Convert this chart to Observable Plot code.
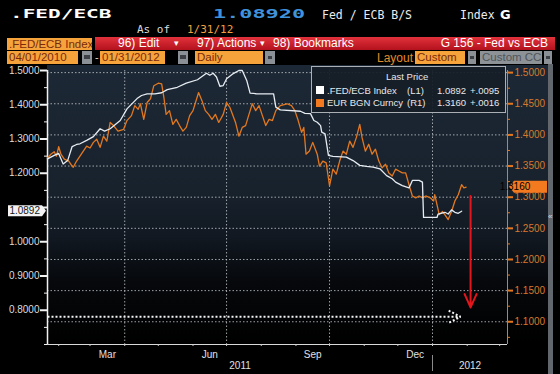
<!DOCTYPE html>
<html><head><meta charset="utf-8">
<script src="https://cdn.jsdelivr.net/npm/d3@7"></script>
<script src="https://cdn.jsdelivr.net/npm/@observablehq/plot@0.6"></script>
<style>
html,body{margin:0;padding:0;background:#000;}
#wrap{position:relative;width:560px;height:374px;overflow:hidden;background:#000;font-family:'Liberation Sans',Arial,sans-serif;}
.a{position:absolute;white-space:nowrap;line-height:1;}
.ob{position:absolute;background:#f6a33b;color:#7a2a0c;font-size:11.5px;line-height:12.5px;height:12.5px;padding-left:2px;box-sizing:border-box;white-space:nowrap;overflow:hidden;}
.gr{position:absolute;background:#8d9297;color:#50555b;font-size:11.5px;line-height:12.5px;height:12.5px;padding-left:2px;box-sizing:border-box;white-space:nowrap;overflow:hidden;}
.gb{position:absolute;background:#8b9096;height:12.5px;}
.gb i{position:absolute;left:2px;right:2px;top:4px;height:4px;background:#3c4046;}
.rb{position:absolute;color:#fff;font-size:12px;line-height:13px;top:37px;white-space:nowrap;}
#plotbg{position:absolute;left:47px;top:65px;width:501px;height:279px;background:linear-gradient(#1d2836 0%,#18222d 45%,#111821 62%,#06080b 78%,#000 100%);}
#chart{position:absolute;left:0;top:64px;}
.legend{position:absolute;left:311px;top:66px;width:195px;height:47px;box-sizing:border-box;border:1px solid #aab0b6;background:rgba(22,30,40,0.93);color:#e8e8e8;font-size:9.5px;}
.legend span{position:absolute;white-space:nowrap;line-height:1;}
</style></head>
<body><div id="wrap">
  <div class="a" style="left:10px;top:6px;font:bold 13px 'DejaVu Sans Mono';color:#fff;transform:scaleX(1.62);transform-origin:0 0;">.FED/ECB</div>
  <div class="a" style="left:213px;top:6px;font:bold 13px 'DejaVu Sans Mono';color:#3f92dc;transform:scaleX(1.68);transform-origin:0 0;">1.08920</div>
  <div class="a" style="left:322px;top:8px;font:11.5px 'DejaVu Sans Mono';color:#ececec;">Fed / ECB B/S</div>
  <div class="a" style="left:460px;top:8px;font:11.5px 'DejaVu Sans Mono';color:#ececec;">Index</div>
  <div class="a" style="left:500px;top:7px;font:bold 13px 'DejaVu Sans';color:#fff;">G</div>
  <div class="a" style="left:137px;top:23px;font:11px 'DejaVu Sans Mono';color:#ddd;">As of</div>
  <div class="a" style="left:187px;top:23px;font:11px 'DejaVu Sans Mono';color:#f0a040;">1/31/12</div>

  <div class="ob" style="left:7px;top:37.5px;width:85px;">.FED/ECB Index</div>
  <div style="position:absolute;left:95px;top:37px;width:460px;height:13px;background:linear-gradient(#e2323c,#b3121d);"></div>
  <div class="rb" style="left:118px;">96) Edit</div>
  <div class="rb" style="left:174px;font-size:9px;">&#9662;</div>
  <div class="rb" style="left:197px;">97) Actions</div>
  <div class="rb" style="left:260px;font-size:9px;">&#9662;</div>
  <div class="rb" style="left:273px;">98) Bookmarks</div>
  <div class="rb" style="right:12px;">G 156 - Fed vs ECB</div>

  <div class="ob" style="left:7px;top:51px;width:71px;">04/01/2010</div>
  <div class="gb" style="left:82px;top:51px;width:10px;"><i></i></div>
  <div class="a" style="left:95px;top:52px;color:#ddd;font-size:11px;">-</div>
  <div class="ob" style="left:100px;top:51px;width:65px;">01/31/2012</div>
  <div class="gb" style="left:178px;top:51px;width:10px;"><i></i></div>
  <div class="ob" style="left:195px;top:51px;width:68px;">Daily</div>
  <div class="gb" style="left:265px;top:51px;width:10px;"><i style="top:5px;height:3px;left:3px;right:3px"></i></div>
  <div class="a" style="left:377px;top:52px;color:#e38b2b;font-size:12px;">Layout</div>
  <div class="ob" style="left:415px;top:51px;width:50px;">Custom</div>
  <div class="gb" style="left:468px;top:51px;width:8px;"><i style="top:5px;height:3px;left:2px;right:2px"></i></div>
  <div class="gr" style="left:480px;top:51px;width:62px;">Custom CC</div>
  <div class="gb" style="left:544px;top:51px;width:8px;"><i style="top:5px;height:3px;left:2px;right:2px"></i></div>

  <div id="plotbg"></div>
  <div style="position:absolute;left:548px;top:64px;width:5px;height:310px;background:#62676e;"></div>
  <div class="a" style="left:548px;top:213px;font-size:8px;color:#ddd;">&laquo;</div>
  <div id="chart"></div>
  <div class="legend" id="legend"></div>
</div>
<script>
// ---- data ----
const fedSeries = [
 ["2011-01-22",1.242],["2011-01-28",1.252],["2011-02-01",1.258],["2011-02-05",1.227],["2011-02-09",1.237],
 ["2011-02-13",1.278],["2011-02-17",1.284],["2011-02-20",1.286],["2011-02-26",1.296],["2011-03-04",1.307],
 ["2011-03-10",1.330],["2011-03-14",1.323],["2011-03-19",1.330],["2011-03-28",1.354],["2011-04-03",1.388],
 ["2011-04-12",1.418],["2011-04-16",1.427],["2011-04-21",1.432],["2011-04-28",1.432],["2011-05-04",1.435],
 ["2011-05-09",1.444],["2011-05-18",1.451],["2011-05-26",1.463],["2011-06-05",1.473],["2011-06-13",1.492],
 ["2011-06-16",1.486],["2011-06-19",1.492],["2011-06-22",1.481],["2011-06-25",1.454],["2011-06-28",1.456],
 ["2011-07-01",1.476],["2011-07-07",1.491],["2011-07-12",1.500],["2011-07-15",1.500],["2011-07-19",1.471],
 ["2011-07-22",1.434],["2011-07-28",1.432],["2011-08-12",1.432],["2011-08-14",1.393],["2011-08-18",1.385],
 ["2011-09-05",1.381],["2011-09-09",1.375],["2011-09-14",1.374],["2011-09-17",1.354],["2011-09-20",1.349],
 ["2011-09-23",1.339],["2011-09-24",1.320],["2011-09-27",1.315],["2011-09-30",1.252],["2011-10-04",1.249],
 ["2011-10-16",1.247],["2011-10-22",1.237],["2011-10-28",1.223],["2011-11-03",1.220],["2011-11-09",1.218],
 ["2011-11-15",1.213],["2011-11-21",1.193],["2011-11-26",1.184],["2011-11-29",1.174],["2011-12-05",1.164],
 ["2011-12-11",1.157],["2011-12-14",1.179],["2011-12-20",1.179],["2011-12-23",1.174],["2011-12-24",1.071],
 ["2012-01-05",1.071],["2012-01-06",1.081],["2012-01-12",1.086],["2012-01-15",1.081],["2012-01-18",1.093],
 ["2012-01-21",1.086],["2012-01-24",1.083],["2012-01-27",1.0892]
];
const eurSeries = [
 ["2011-01-22",1.363],["2011-01-25",1.369],["2011-01-28",1.373],["2011-01-30",1.366],["2011-02-01",1.381],
 ["2011-02-03",1.369],["2011-02-06",1.361],["2011-02-10",1.358],["2011-02-13",1.350],["2011-02-14",1.348],
 ["2011-02-17",1.358],["2011-02-20",1.366],["2011-02-23",1.374],["2011-02-26",1.382],["2011-03-01",1.379],
 ["2011-03-04",1.388],["2011-03-07",1.393],["2011-03-10",1.380],["2011-03-13",1.398],["2011-03-16",1.390],
 ["2011-03-19",1.420],["2011-03-22",1.415],["2011-03-26",1.406],["2011-03-31",1.409],["2011-04-03",1.423],
 ["2011-04-07",1.431],["2011-04-10",1.447],["2011-04-13",1.441],["2011-04-15",1.450],["2011-04-18",1.425],
 ["2011-04-21",1.452],["2011-04-24",1.458],["2011-04-27",1.479],["2011-05-01",1.483],["2011-05-04",1.482],
 ["2011-05-06",1.460],["2011-05-08",1.433],["2011-05-11",1.439],["2011-05-14",1.417],["2011-05-17",1.425],
 ["2011-05-20",1.415],["2011-05-23",1.406],["2011-05-26",1.412],["2011-05-29",1.431],["2011-06-01",1.439],
 ["2011-06-06",1.468],["2011-06-09",1.455],["2011-06-12",1.439],["2011-06-15",1.433],["2011-06-18",1.425],
 ["2011-06-21",1.433],["2011-06-24",1.420],["2011-06-28",1.433],["2011-07-01",1.452],["2011-07-04",1.444],
 ["2011-07-09",1.420],["2011-07-12",1.398],["2011-07-15",1.412],["2011-07-18",1.415],["2011-07-21",1.433],
 ["2011-07-24",1.450],["2011-07-27",1.439],["2011-07-30",1.447],["2011-08-02",1.431],["2011-08-05",1.415],
 ["2011-08-08",1.425],["2011-08-11",1.423],["2011-08-14",1.439],["2011-08-18",1.447],["2011-08-24",1.450],
 ["2011-08-28",1.447],["2011-08-31",1.439],["2011-09-03",1.423],["2011-09-06",1.404],["2011-09-08",1.412],
 ["2011-09-10",1.369],["2011-09-13",1.374],["2011-09-16",1.388],["2011-09-20",1.369],["2011-09-22",1.350],
 ["2011-09-25",1.358],["2011-09-28",1.355],["2011-10-01",1.318],["2011-10-04",1.345],["2011-10-07",1.337],
 ["2011-10-10",1.358],["2011-10-13",1.374],["2011-10-16",1.369],["2011-10-19",1.390],["2011-10-22",1.380],
 ["2011-10-25",1.396],["2011-10-28",1.417],["2011-10-30",1.396],["2011-11-02",1.374],["2011-11-05",1.385],
 ["2011-11-08",1.369],["2011-11-11",1.377],["2011-11-14",1.358],["2011-11-17",1.347],["2011-11-20",1.353],
 ["2011-11-23",1.339],["2011-11-26",1.334],["2011-11-29",1.345],["2011-12-02",1.342],["2011-12-05",1.339],
 ["2011-12-08",1.339],["2011-12-11",1.320],["2011-12-14",1.302],["2011-12-17",1.299],["2011-12-20",1.302],
 ["2011-12-23",1.299],["2011-12-26",1.302],["2011-12-30",1.299],["2012-01-02",1.294],["2012-01-03",1.304],
 ["2012-01-05",1.288],["2012-01-07",1.272],["2012-01-10",1.277],["2012-01-12",1.272],["2012-01-15",1.264],
 ["2012-01-18",1.277],["2012-01-21",1.294],["2012-01-24",1.304],["2012-01-27",1.320],["2012-01-29",1.315],
 ["2012-01-31",1.316]
];
const leftTicks = [0.8, 0.9, 1.0, 1.1, 1.2, 1.3, 1.4, 1.5];
const leftMinor = [0.7, 0.75, 0.85, 0.95, 1.05, 1.15, 1.25, 1.35, 1.45];
const rightTicks = [1.10, 1.15, 1.20, 1.25, 1.30, 1.35, 1.40, 1.45, 1.50];
const rightMinor = [1.075, 1.125, 1.175, 1.225, 1.275, 1.325, 1.375, 1.425, 1.475];
const monthLabels = ["Mar", "Jun", "Sep", "Dec"];
const yearLabels = ["2011", "2012"];
const legendNames = [".FED/ECB Index", "EUR BGN Curncy"];
const legendAxes = ["(L1)", "(R1)"];
const lastValues = [1.0892, 1.3160];
const lastChanges = ["+.0095", "+.0016"];
const redArrow = {date: "2012-02-04", from: 1.302, to: 1.123};      // right-axis values
const dotArrow = {from: "2011-01-22", to: "2012-01-26", level: 0.781}; // left-axis value
const xStart = "2011-01-22", xEnd = "2012-03-08";
const leftDomain = [0.7, 1.5], rightDomain = [1.0635, 1.5034];

// ---- helpers ----
const parse = d3.utcParse("%Y-%m-%d");
const X0 = parse(xStart), X1 = parse(xEnd);
const toL = r => leftDomain[0] + (r - rightDomain[0]) / (rightDomain[1] - rightDomain[0]) * (leftDomain[1] - leftDomain[0]);
const fromL = l => rightDomain[0] + (l - leftDomain[0]) / (leftDomain[1] - leftDomain[0]) * (rightDomain[1] - rightDomain[0]);
const WHITE = "#e6ecf2", ORANGE = "#e3781f", ORANGE_TXT = "#d7792c";
const f4 = d3.format(".4f");
// left tick label hidden behind the last-value tag (as on the terminal)
const leftLabel = d => Math.abs(d - lastValues[0]) < 0.03 ? "" : f4(d);

const monthStarts = d3.utcMonth.range(X0, X1);
const quarterStarts = d3.utcMonth.every(3).range(X0, X1);
const monthMids = monthLabels.map(m => {
  const s = d3.utcParse("%b %Y")(m + " 2011");
  const e = d3.utcMonth.offset(s, 1);
  return new Date((+s + +e) / 2);
});
const yearMids = yearLabels.map(y => {
  const s = new Date(Math.max(+d3.utcParse("%Y")(y), +X0));
  const e = new Date(Math.min(+d3.utcYear.offset(d3.utcParse("%Y")(y), 1), +X1));
  return new Date((+s + +e) / 2);
});
const yearBreak = d3.utcYear.range(X0, X1);

function tags(index, scales, values, dims) {
  const g = d3.create("svg:g").attr("font-family", "'Liberation Sans', Arial, sans-serif").attr("font-size", 10);
  const xl = dims.marginLeft, xr = dims.width - dims.marginRight;
  const yl = scales.y(lastValues[0]);
  g.append("path").attr("d", `M${xl - 39},${yl - 5.5}H${xl - 5}L${xl - 1},${yl}L${xl - 5},${yl + 5.5}H${xl - 39}Z`).attr("fill", "#f2f2f2");
  g.append("text").attr("x", xl - 7).attr("y", yl).attr("dy", "0.36em").attr("text-anchor", "end").attr("fill", "#151515").text(f4(lastValues[0]));
  const yr = scales.y(toL(lastValues[1]));
  g.append("path").attr("d", `M${xr + 2},${yr}L${xr + 7},${yr - 6}H${xr + 40}V${yr + 6}H${xr + 7}Z`).attr("fill", "#f47a1f");
  g.append("text").attr("x", xr + 8).attr("y", yr).attr("dy", "0.36em").attr("fill", "#000").text(f4(lastValues[1]));
  return g.node();
}

const gridStyle = {stroke: "#c3c8cd", strokeOpacity: 0.8, strokeWidth: 1, strokeDasharray: "1.5,2"};
const chart = Plot.plot({
  width: 560, height: 310,
  marginTop: 6, marginBottom: 30, marginLeft: 47, marginRight: 53,
  style: {background: "transparent", color: "#ddd", fontFamily: "'Liberation Sans', Arial, sans-serif", fontSize: "10px", overflow: "visible"},
  x: {type: "utc", domain: [X0, X1], axis: null},
  y: {domain: leftDomain, axis: null},
  marks: [
    Plot.ruleY(rightTicks.map(toL), gridStyle),
    Plot.ruleX(quarterStarts, gridStyle),
    Plot.ruleY([leftDomain[0]], {stroke: "#d9d9d9"}),
    Plot.ruleX([X0], {stroke: "#f0f0f0", strokeWidth: 1.5}),
    Plot.ruleX([X1], {stroke: ORANGE}),
    Plot.axisY(leftTicks, {anchor: "left", label: null, tickSize: 7, tickPadding: 1, strokeWidth: 2, stroke: "#f2f2f2", fill: "#dcdcdc", tickFormat: leftLabel}),
    Plot.axisY(leftMinor, {anchor: "left", label: null, tickSize: 3, stroke: "#f2f2f2", tickFormat: () => ""}),
    Plot.axisY(rightTicks.map(toL), {anchor: "right", label: null, tickSize: 5, tickPadding: 2, strokeWidth: 2, stroke: ORANGE, fill: ORANGE_TXT, tickFormat: d => f4(fromL(d))}),
    Plot.axisY(rightMinor.map(toL), {anchor: "right", label: null, tickSize: 2, stroke: ORANGE, tickFormat: () => ""}),
    Plot.axisX(monthStarts, {anchor: "bottom", label: null, tickSize: 2, stroke: "#cccccc", tickFormat: () => ""}),
    Plot.axisX(monthMids, {anchor: "bottom", label: null, tickSize: 0, tickPadding: 6, fill: "#e0e0e0", tickFormat: d3.utcFormat("%b")}),
    Plot.axisX(yearMids, {anchor: "bottom", label: null, tickSize: 0, tickPadding: 17, fill: "#e0e0e0", tickFormat: d3.utcFormat("%Y")}),
    Plot.axisX(yearBreak, {anchor: "bottom", label: null, tickSize: 16, dy: 11, stroke: "#8a8a8a", tickFormat: () => ""}),
    Plot.line(eurSeries, {x: d => parse(d[0]), y: d => toL(d[1]), stroke: ORANGE, strokeWidth: 1.3}),
    Plot.line(fedSeries, {x: d => parse(d[0]), y: d => d[1], stroke: WHITE, strokeWidth: 1.3}),
    Plot.arrow([dotArrow], {x1: d => parse(d.from), x2: d => parse(d.to), y1: d => d.level, y2: d => d.level,
      stroke: "#f4f4f4", strokeWidth: 2, strokeDasharray: "2,2", strokeLinecap: "butt", strokeLinejoin: "miter", headLength: 10, headAngle: 55}),
    Plot.arrow([redArrow], {x1: d => parse(d.date), x2: d => parse(d.date), y1: d => toL(d.from), y2: d => toL(d.to),
      stroke: "#e3161e", strokeWidth: 2, headLength: 11, headAngle: 48}),
    tags
  ]
});
document.getElementById("chart").append(chart);

// legend
const lg = d3.select("#legend");
lg.append("span").style("left", "74px").style("top", "5px").text("Last Price");
const swatch = ["#ffffff", "#f47a1f"];
legendNames.forEach((n, i) => {
  const top = 19 + i * 12.5;
  lg.append("span").style("left", "4px").style("top", top + "px").style("width", "8px").style("height", "8px").style("background", swatch[i]);
  lg.append("span").style("left", "15px").style("top", top - 0.5 + "px").text(n);
  lg.append("span").style("left", "95px").style("top", top - 0.5 + "px").text(legendAxes[i]);
  lg.append("span").style("left", "125px").style("top", top - 0.5 + "px").text(f4(lastValues[i]));
  lg.append("span").style("left", "158px").style("top", top - 0.5 + "px").text(lastChanges[i]);
});
</script>
</body></html>
